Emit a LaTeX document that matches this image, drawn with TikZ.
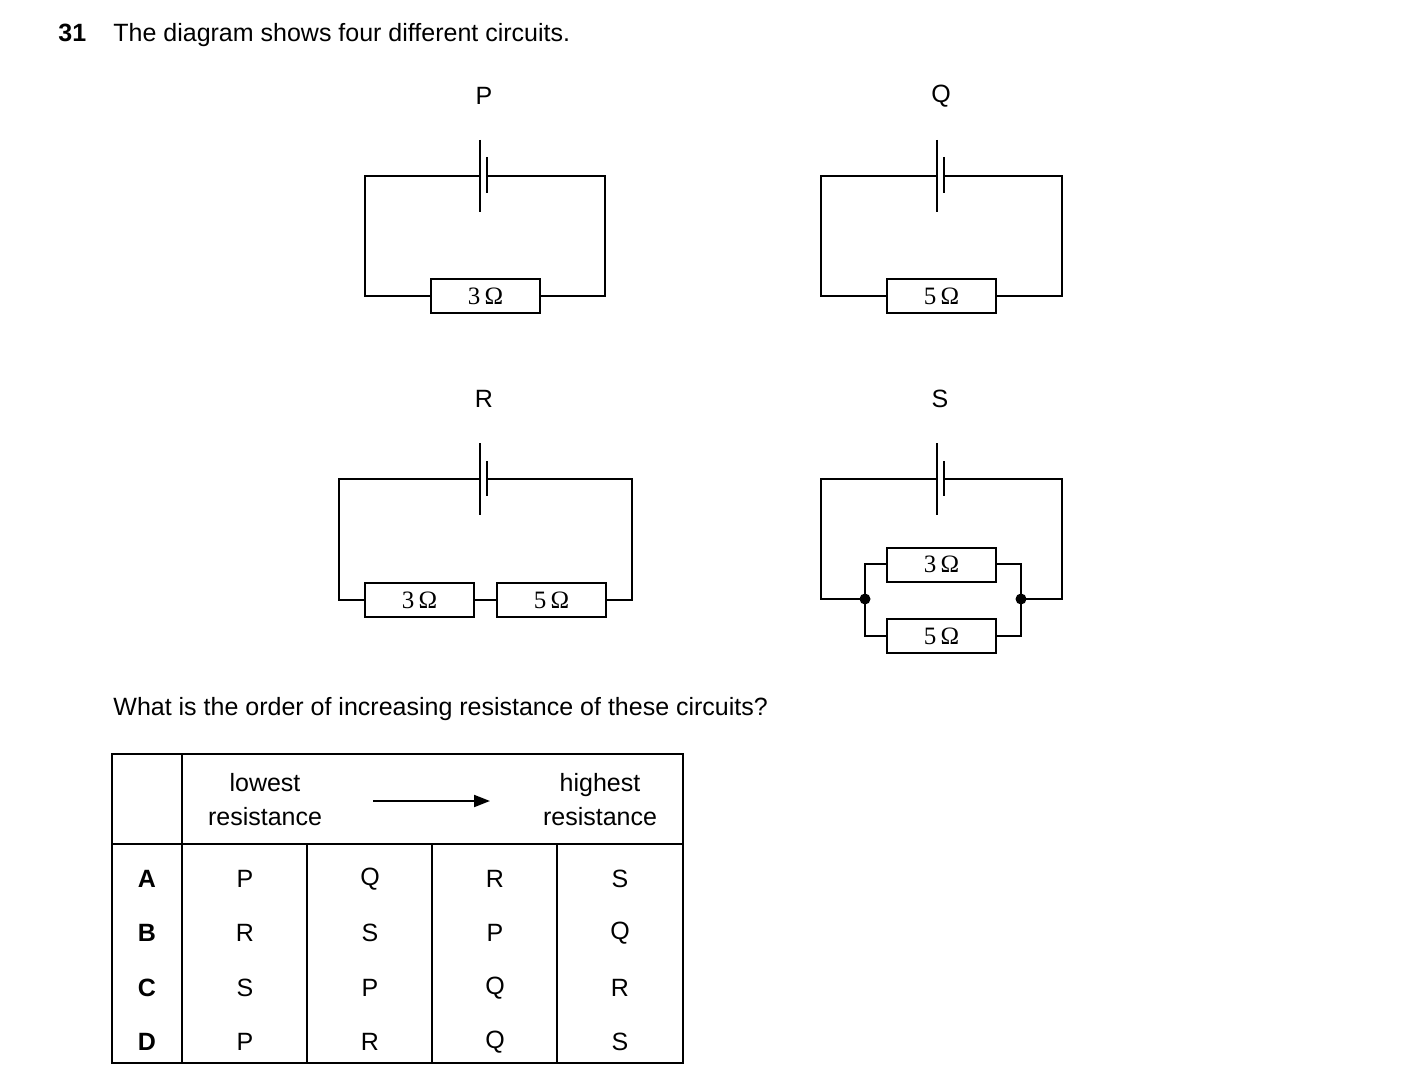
\documentclass[tikz,border=0pt]{standalone}
\usepackage{fontspec}
\setmainfont{Liberation Sans}
\newfontfamily\serifw{Liberation Serif}
\usetikzlibrary{arrows.meta}
\begin{document}
\begin{tikzpicture}[x=0.5pt,y=-0.5pt,
  txt/.style={font=\fontsize{12.5}{15}\selectfont,inner sep=0},
  w/.style={line width=1pt},
  res/.style={draw,line width=1pt,minimum width=54.5pt,minimum height=17pt,inner sep=0,font=\serifw\fontsize{12.5}{15}\selectfont,fill=white},
  dot/.style={circle,fill=black,inner sep=0,minimum size=5.5pt}]
\useasboundingbox (0,0) rectangle (1403,1091);
\node[txt,anchor=base west,font=\bfseries\fontsize{12.5}{15}\selectfont] (num) at (58,42) {31};
\node[txt,anchor=base west] (t1) at (113,42) {The diagram shows four different circuits.};
% P
\node[txt] (lP) at (484,96) {P};
\draw[w] (480,176) -- (365,176) -- (365,296) -- (431,296);
\draw[w] (540,296) -- (605,296) -- (605,176) -- (487,176);
\draw[w] (480,140) -- (480,212); \draw[w] (487,157) -- (487,193);
\node[res] (rP) at (485.5,296.5) {3\,Ω};
% Q
\node[txt] (lQ) at (941,96) {Q};
\draw[w] (937,176) -- (821,176) -- (821,296) -- (887,296);
\draw[w] (996,296) -- (1062,296) -- (1062,176) -- (944,176);
\draw[w] (937,140) -- (937,212); \draw[w] (944,157) -- (944,193);
\node[res] (rQ) at (941.5,296.5) {5\,Ω};
% R
\node[txt] (lR) at (484,399) {R};
\draw[w] (480,479) -- (339,479) -- (339,600) -- (366,600);
\draw[w] (473,600) -- (497,600);
\draw[w] (606,600) -- (632,600) -- (632,479) -- (487,479);
\draw[w] (480,443) -- (480,515); \draw[w] (487,461) -- (487,496);
\node[res] (rR1) at (419.5,600) {3\,Ω};
\node[res] (rR2) at (551.5,600) {5\,Ω};
% S
\node[txt] (lS) at (940,399) {S};
\draw[w] (937,479) -- (821,479) -- (821,599) -- (865,599);
\draw[w] (1021,599) -- (1062,599) -- (1062,479) -- (944,479);
\draw[w] (937,443) -- (937,515); \draw[w] (944,461) -- (944,496);
\draw[w] (887,564) -- (865,564) -- (865,636) -- (887,636);
\draw[w] (996,564) -- (1021,564) -- (1021,636) -- (996,636);
\node[res] (rS1) at (941.5,564.5) {3\,Ω};
\node[res] (rS2) at (941.5,636) {5\,Ω};
\node[dot] (j1) at (865,599) {};
\node[dot] (j2) at (1021,599) {};
% question
\node[txt,anchor=base west] (q) at (113,715) {What is the order of increasing resistance of these circuits?};
% table
\draw[line width=0.8pt] (112,754) rectangle (683,1063);
\draw[line width=0.8pt] (112,844) -- (683,844);
\draw[line width=0.8pt] (182,754) -- (182,1063);
\foreach \x in {307,432,557} \draw[line width=0.8pt] (\x,844) -- (\x,1063);
\node[txt,align=center] (lo) at (265,800) {lowest\\[2pt]resistance};
\node[txt,align=center] (hi) at (600,800) {highest\\[2pt]resistance};
\coordinate (a1) at (373,801); \coordinate (a2) at (490,801);
\draw[line width=1pt,-{Triangle[length=8pt,width=6pt]}] (a1) -- (a2);
\foreach \L/\a/\b/\c/\d/\y in {A/P/Q/R/S/879,B/R/S/P/Q/933,C/S/P/Q/R/988,D/P/R/Q/S/1042}{
  \node[txt,font=\bfseries\fontsize{12.5}{15}\selectfont] at (147,\y) {\L};
  \node[txt] at (245,\y) {\a};
  \node[txt] at (370,\y) {\b};
  \node[txt] at (495,\y) {\c};
  \node[txt] at (620,\y) {\d};
}
\end{tikzpicture}
\end{document}
